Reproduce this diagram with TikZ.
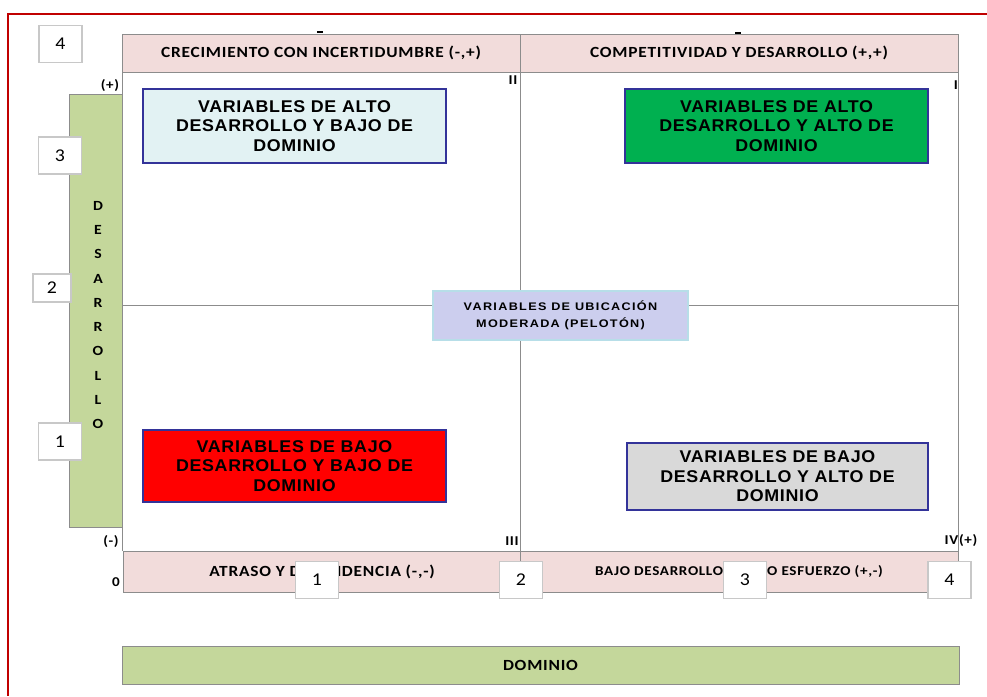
\documentclass[tikz,border=0pt]{standalone}
\usepackage{fontspec}
\setmainfont{Carlito}
\newfontfamily\hdrfont[FakeStretch=1.12,LetterSpace=5]{Carlito}
\newfontfamily\quadfont[FakeStretch=1.05,LetterSpace=4]{Liberation Sans}
\newfontfamily\midfont[FakeStretch=1.15,LetterSpace=12]{Liberation Sans}
\newfontfamily\numfont[FakeStretch=1.1]{Carlito}
\definecolor{hdrpink}{RGB}{242,220,219}
\definecolor{barolive}{RGB}{196,215,155}
\definecolor{edgegray}{RGB}{140,140,140}
\definecolor{boxnavy}{RGB}{51,51,153}
\definecolor{tlcyan}{RGB}{226,242,243}
\definecolor{trgreen}{RGB}{0,176,80}
\definecolor{blred}{RGB}{255,0,0}
\definecolor{brgray}{RGB}{217,217,217}
\definecolor{midlav}{RGB}{204,206,238}
\definecolor{midedge}{RGB}{183,222,232}
\definecolor{framered}{RGB}{192,0,0}
\definecolor{numedge}{RGB}{200,200,200}
\tikzset{
	hdr/.style={draw=edgegray, fill=hdrpink, line width=1pt, inner sep=0pt, font=\hdrfont\bfseries\fontsize{15.5}{18}\selectfont},
	bar/.style={draw=edgegray, fill=barolive, line width=1pt, inner sep=0pt},
	quad/.style={draw=boxnavy, line width=2.7pt, inner sep=0pt, align=center, font=\quadfont\bfseries\fontsize{17}{19.5}\selectfont},
	numbox/.style={draw=numedge, fill=white, line width=1.2pt, minimum width=43pt, minimum height=37pt, inner sep=0pt, font=\numfont\fontsize{18}{18}\selectfont},
	tag/.style={inner sep=0pt, font=\hdrfont\bfseries\fontsize{13.5}{13.5}\selectfont},
	gridline/.style={draw=edgegray, line width=1pt}
}
\begin{document}
\begin{tikzpicture}[x=1pt,y=-1pt]
			\useasboundingbox (0,0) rectangle (987,696);
			\fill[white] (0,0) rectangle (987,696);
			\draw[framered, line width=2pt] (987,13.5) -- (8,13.5) -- (8,696);
			\draw[gridline] (122,72) -- (122,551);
			\draw[gridline] (520,72) -- (520,551);
			\draw[gridline] (958,72) -- (958,551);
			\draw[gridline] (122,305) -- (958,305);
			\draw[line width=1.8pt] (317,32) -- (323,32);
			\draw[line width=1.8pt] (735,33) -- (741,33);
			\node[hdr, minimum width=398pt, minimum height=38pt] (crec) at (321,53) {CRECIMIENTO CON INCERTIDUMBRE (-,+)};
			\node[hdr, minimum width=438pt, minimum height=38pt] (comp) at (739,53) {COMPETITIVIDAD Y DESARROLLO (+,+)};
			\node[hdr, minimum width=398pt, minimum height=41pt] (atra) at (322,571.5) {ATRASO Y DEPENDENCIA (-,-)};
			\node[hdr, minimum width=438pt, minimum height=41pt, font=\hdrfont\bfseries\fontsize{13.5}{16}\selectfont] (bajo) at (739,571.5) {BAJO DESARROLLO Y POCO ESFUERZO (+,-)};
			\node[bar, minimum width=53pt, minimum height=433pt] (desbar) at (95.5,310.5) {};
			\node[align=center, inner sep=0pt, font=\hdrfont\bfseries\fontsize{14}{24.3}\selectfont] (desa) at (98,315) {D\\E\\S\\A\\R\\R\\O\\L\\L\\O};
			\node[bar, minimum width=837pt, minimum height=38pt, font=\hdrfont\bfseries\fontsize{15.5}{18}\selectfont] (dom) at (540.5,665) {DOMINIO};
			\node[quad, fill=tlcyan, minimum width=303pt, minimum height=74pt] (qtl) at (294.5,126) {VARIABLES DE ALTO\\DESARROLLO Y BAJO DE\\DOMINIO};
			\node[quad, fill=trgreen, minimum width=303pt, minimum height=74pt] (qtr) at (776.5,126) {VARIABLES DE ALTO\\DESARROLLO Y ALTO DE\\DOMINIO};
			\node[quad, fill=blred, minimum width=303pt, minimum height=72pt] (qbl) at (294.5,466) {VARIABLES DE BAJO\\DESARROLLO Y BAJO DE\\DOMINIO};
			\node[quad, fill=brgray, minimum width=301pt, minimum height=67pt] (qbr) at (777.5,476.5) {VARIABLES DE BAJO\\DESARROLLO Y ALTO DE\\DOMINIO};
			\node[draw=midedge, fill=midlav, line width=1.5pt, minimum width=255pt, minimum height=49pt, inner sep=0pt, align=center, font=\midfont\bfseries\fontsize{11}{17}\selectfont] (pelo) at (560.5,315.5) {VARIABLES DE UBICACIÓN\\MODERADA (PELOTÓN)};
			\node[tag] (pmas) at (110,86) {(+)};
			\node[tag] (pmen) at (111,542) {(-)};
			\node[tag] (cero) at (116,582) {0};
			\node[tag] (qii) at (513,80) {II};
			\node[tag] (qi) at (956,85) {I};
			\node[tag] (qiii) at (512,541) {III};
			\node[tag] (qiv) at (961,541) {IV(+)};
			\node[numbox] (y4) at (60.5,44) {4};
			\node[numbox] (y3) at (60,155.5) {3};
			\node[numbox, minimum width=38pt, minimum height=28pt] (y2) at (52,288) {2};
			\node[numbox] (y1) at (60,441.5) {1};
			\node[numbox] (x1) at (317,580) {1};
			\node[numbox] (x2) at (521,580) {2};
			\node[numbox] (x3) at (745,580) {3};
			\node[numbox] (x4) at (949.5,580) {4};
		\end{tikzpicture}
\end{document}
